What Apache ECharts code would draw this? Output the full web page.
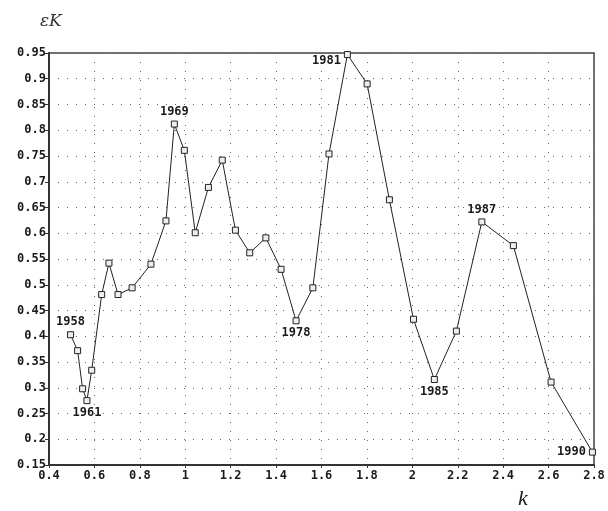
<!DOCTYPE html>
<html>
<head>
<meta charset="utf-8">
<script src="https://cdn.jsdelivr.net/npm/echarts@6/dist/echarts.min.js"></script>
<style>
  html, body { margin: 0; padding: 0; background: #fff; }
  #chart { width: 608px; height: 511px; }
</style>
</head>
<body>
<div id="chart"></div>
<script>
// k values (x) and epsilon_K values (y)
const kValues = [
  0.495, 0.526, 0.548, 0.567, 0.588, 0.632, 0.664, 0.704, 0.766, 0.849,
  0.915, 0.952, 0.996, 1.044, 1.102, 1.163, 1.221, 1.284, 1.355, 1.422,
  1.488, 1.562, 1.633, 1.714, 1.801, 1.899, 2.005, 2.097, 2.194, 2.306,
  2.445, 2.611, 2.793
]
const epsValues = [
  0.403, 0.372, 0.298, 0.275, 0.334, 0.481, 0.542, 0.481, 0.494, 0.540,
  0.624, 0.812, 0.761, 0.601, 0.689, 0.742, 0.606, 0.562, 0.591, 0.530,
  0.430, 0.494, 0.754, 0.947, 0.890, 0.665, 0.433, 0.316, 0.410, 0.622,
  0.576, 0.311, 0.175
]
// year labels: point index, year, label position
const yearLabels = [
  [0, '1958', 'top'],
  [3, '1961', 'bottom'],
  [11, '1969', 'top'],
  [20, '1978', 'bottom'],
  [23, '1981', 'left'],
  [27, '1985', 'bottom'],
  [29, '1987', 'top'],
  [32, '1990', 'left'],
]

const tickFont = { fontFamily: 'DejaVu Sans Mono', fontWeight: 'bold', fontSize: 12, color: '#1a1a1a' }
const labelByIndex = {}
yearLabels.forEach(([i, year, pos]) => { labelByIndex[i] = { year, pos } })

const seriesData = kValues.map((k, i) => {
  const item = { value: [k, epsValues[i]] }
  const lab = labelByIndex[i]
  if (lab) {
    item.label = {
      show: true,
      formatter: lab.year,
      position: lab.pos,
      distance: 3,
      ...tickFont,
    }
    // 1981 sits a bit below its point in the original
    if (lab.year === '1981') item.label.offset = [0, 6]
  }
  return item
})

const chart = echarts.init(document.getElementById('chart'))
chart.setOption({
  animation: false,
  backgroundColor: '#fff',
  grid: {
    left: 49, right: 14, top: 53, bottom: 46,
    show: true, borderColor: '#444', borderWidth: 1.5,
  },
  xAxis: {
    type: 'value',
    min: 0.4, max: 2.8, interval: 0.2,
    axisLine: { show: true, lineStyle: { color: '#333', width: 2 } },
    axisTick: { show: true, length: 3, lineStyle: { color: '#333' } },
    axisLabel: { ...tickFont, margin: 5 },
    splitLine: { show: true, lineStyle: { color: '#666', type: [1, 8], width: 1 } },
  },
  yAxis: {
    type: 'value',
    min: 0.15, max: 0.95, interval: 0.05,
    axisLine: { show: true, lineStyle: { color: '#333', width: 2 } },
    axisTick: { show: true, length: 4, lineStyle: { color: '#333' } },
    axisLabel: { ...tickFont, margin: 3 },
    splitLine: { show: true, lineStyle: { color: '#666', type: [1, 8], width: 1 } },
  },
  graphic: [
    {
      type: 'text', left: 40, top: 13,
      style: { text: 'εK', font: 'italic 17px "DejaVu Serif"', fill: '#333' },
    },
    {
      type: 'text', left: 518, top: 488,
      style: { text: 'k', font: 'italic 22px "Liberation Serif"', fill: '#222' },
    },
  ],
  series: [
    {
      type: 'line',
      data: seriesData,
      symbol: 'rect',
      symbolSize: 6,
      lineStyle: { color: '#222', width: 1 },
      itemStyle: { color: '#eee', borderColor: '#222', borderWidth: 1 },
    },
  ],
})
</script>
</body>
</html>
